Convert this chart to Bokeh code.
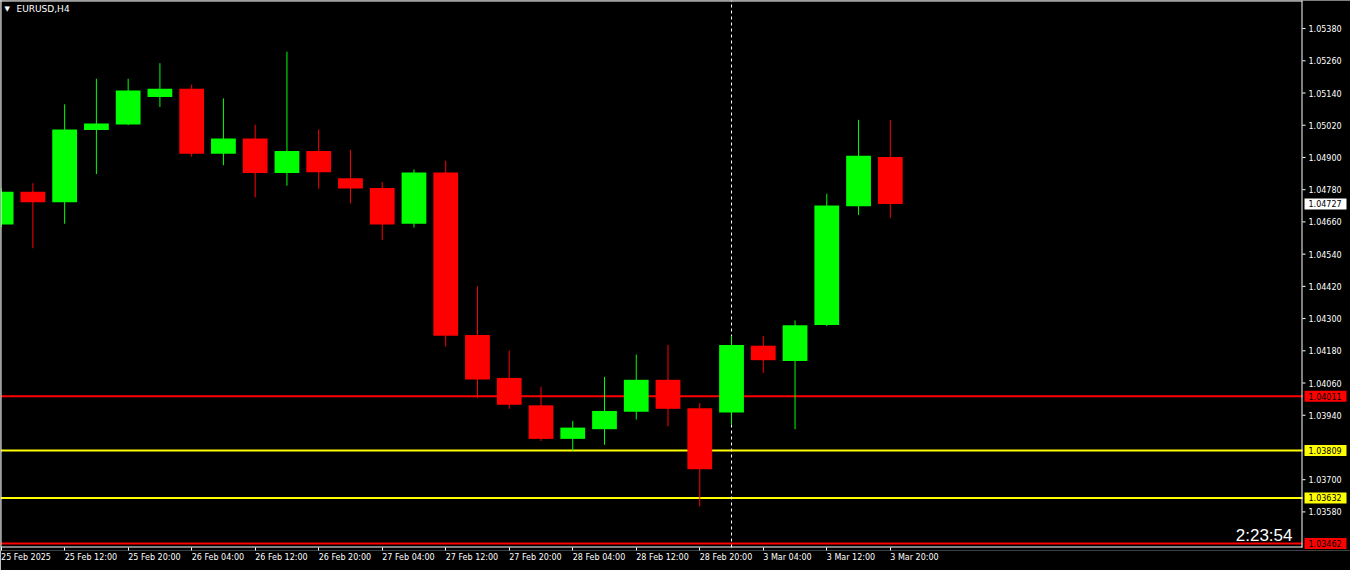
from bokeh.plotting import figure
from bokeh.models import ColumnDataSource, Range1d, FixedTicker, Label
from bokeh.core.properties import value
from bokeh.embed import file_html
from bokeh.resources import INLINE

# ---------------- data ----------------
symbol = "EURUSD,H4"
timer_text = "2:23:54"

tick_index = [0, 2, 4, 6, 8, 10, 12, 14, 16, 18, 20, 22, 24, 26, 28]
tick_text = ["25 Feb 2025", "25 Feb 12:00", "25 Feb 20:00", "26 Feb 04:00", "26 Feb 12:00",
             "26 Feb 20:00", "27 Feb 04:00", "27 Feb 12:00", "27 Feb 20:00", "28 Feb 04:00",
             "28 Feb 12:00", "28 Feb 20:00", "3 Mar 04:00", "3 Mar 12:00", "3 Mar 20:00"]

opens = [1.04650, 1.04772, 1.04733, 1.05002, 1.05023, 1.05125, 1.05156, 1.04914, 1.04971, 1.04842,
         1.04924, 1.04823, 1.04786, 1.04653, 1.04844, 1.04239, 1.04079, 1.03977, 1.03852, 1.03888,
         1.03953, 1.04072, 1.03966, 1.03950, 1.04199, 1.04142, 1.04276, 1.04718, 1.04902]
highs = [1.04786, 1.04804, 1.05098, 1.05193, 1.05193, 1.05251, 1.05171, 1.05120, 1.05022, 1.05294,
         1.05004, 1.04928, 1.04808, 1.04855, 1.04888, 1.04420, 1.04181, 1.04046, 1.03919, 1.04083,
         1.04166, 1.04202, 1.03985, 1.04235, 1.04235, 1.04293, 1.04765, 1.05040, 1.05040]
lows = [1.04640, 1.04562, 1.04653, 1.04838, 1.05020, 1.05088, 1.04903, 1.04871, 1.04751, 1.04795,
        1.04784, 1.04729, 1.04592, 1.04639, 1.04196, 1.04004, 1.03964, 1.03844, 1.03808, 1.03830,
        1.03924, 1.03899, 1.03601, 1.03905, 1.04098, 1.03888, 1.04272, 1.04686, 1.04675]
closes = [1.04772, 1.04733, 1.05004, 1.05026, 1.05149, 1.05156, 1.04914, 1.04971, 1.04842, 1.04924,
          1.04845, 1.04784, 1.04650, 1.04844, 1.04236, 1.04073, 1.03979, 1.03852, 1.03894, 1.03956,
          1.04072, 1.03964, 1.03739, 1.04202, 1.04145, 1.04275, 1.04721, 1.04906, 1.04727]

price_ticks = [1.05380, 1.05260, 1.05140, 1.05020, 1.04900, 1.04780, 1.04660, 1.04540, 1.04420,
               1.04300, 1.04180, 1.04060, 1.03940, 1.03700, 1.03580]

levels = [1.04011, 1.03809, 1.03632, 1.03462]
level_colors = ["#ff0000", "#ffff00", "#ffff00", "#ff0000"]
separator_bar = 23  # 3 Mar 00:00

# ---------------- style / geometry ----------------
BULL, BEAR = "#00ff00", "#ff0000"
CW, SW = 1302, 48          # chart area width, price-scale width (px)
CH, PAD = 547, 3           # chart area height, extra frame below chart border (px)
FW, FH = CW + SW, CH + PAD
X0, X1 = -0.02, 40.98      # chart area index range
Y0, Y1 = 1.034475, 1.054845  # chart area price range
PPX = CW / (X1 - X0)
PPU = CH / (Y1 - Y0)
XE = X0 + FW / PPX
YB = Y0 - PAD / PPU
AX_FONT = "DejaVu Sans"

def dx(px):
    return px / PPX

def dy(px):
    return px / PPU

idx = list(range(len(opens)))
colors = [BULL if c >= o else BEAR for o, c in zip(opens, closes)]
src = ColumnDataSource(dict(
    x=idx, high=highs, low=lows,
    top=[max(o, c) for o, c in zip(opens, closes)],
    bottom=[min(o, c) for o, c in zip(opens, closes)],
    color=colors,
))

p = figure(frame_width=FW, frame_height=FH,
           x_range=Range1d(X0, XE), y_range=Range1d(YB, Y1),
           y_axis_location=None, output_backend="svg", toolbar_location=None,
           background_fill_color="black", border_fill_color="black",
           min_border_left=0, min_border_top=0, min_border_right=0, min_border_bottom=20,
           outline_line_color=None)
p.grid.visible = False

# level lines (behind candles) and session separator
p.segment(x0=X0, x1=X1, y0=levels, y1=levels, line_color=level_colors, line_width=2)
p.segment(x0=[separator_bar], x1=[separator_bar], y0=[Y0], y1=[Y1],
          line_color="white", line_width=1, line_dash="3 3")

# candles
p.segment(x0="x", y0="low", x1="x", y1="high", source=src, line_color="color", line_width=1)
p.vbar(x="x", width=0.78, top="top", bottom="bottom", source=src,
       fill_color="color", line_color=None)

# chart border
p.segment(x0=[X0 + dx(0.5), X0, X1 - dx(0.5), X0],
          x1=[X0 + dx(0.5), X1, X1 - dx(0.5), X1],
          y0=[Y0, Y1 - dy(0.5), Y0, Y0 + dy(0.5)],
          y1=[Y1, Y1 - dy(0.5), Y1, Y0 + dy(0.5)],
          line_color="white", line_width=1)

# price scale (right)
scale_src = ColumnDataSource(dict(y=price_ticks, label=[f"{t:.5f}" for t in price_ticks]))
p.segment(x0=X1, x1=X1 + dx(3), y0="y", y1="y", source=scale_src, line_color="white", line_width=1)
p.text(x=X1 + dx(6), y="y", text="label", source=scale_src, text_color="white",
       text_font=value(AX_FONT), text_font_size="8px", text_align="left", text_baseline="middle")

box_vals = levels + [closes[-1]]
box_cols = level_colors + ["#ffffff"]
box_src = ColumnDataSource(dict(
    y=box_vals, color=box_cols, label=[f"{v:.5f}" for v in box_vals],
    top=[v + dy(5.5) for v in box_vals], bottom=[v - dy(5.5) for v in box_vals],
))
p.quad(left=X1 + dx(2), right=X1 + dx(44), top="top", bottom="bottom", source=box_src,
       fill_color="color", line_color=None)
p.text(x=X1 + dx(6), y="y", text="label", source=box_src, text_color="black",
       text_font=value(AX_FONT), text_font_size="8px", text_align="left", text_baseline="middle")

# x axis (ticks hang from the chart border, labels left-aligned at the tick)
xa = p.xaxis[0]
xa.ticker = FixedTicker(ticks=tick_index)
xa.major_label_overrides = {i: t for i, t in zip(tick_index, tick_text)}
xa.major_label_orientation = -1e-6
xa.minor_tick_line_color = None
xa.major_tick_in = PAD
xa.major_tick_out = 0
xa.major_tick_line_color = "white"
xa.axis_line_color = None
xa.major_label_text_color = "white"
xa.major_label_text_font = AX_FONT
xa.major_label_text_font_size = "8px"
xa.major_label_standoff = 7

# symbol label
p.add_layout(Label(x=X0 + dx(4), y=Y1 - dy(8), text="\u25BC",
                   text_color="white", text_font=AX_FONT, text_font_size="7px",
                   text_baseline="middle"))
p.add_layout(Label(x=X0 + dx(16), y=Y1 - dy(8), text=symbol,
                   text_color="white", text_font=AX_FONT, text_font_size="9px",
                   text_baseline="middle"))

# timer
p.add_layout(Label(x=X1 - dx(10), y=Y0 + dy(12), text=timer_text,
                   text_color="white", text_font="Liberation Sans", text_font_size="17px",
                   text_align="right", text_baseline="alphabetic"))

open("out.html", "w").write(file_html(p, INLINE))
